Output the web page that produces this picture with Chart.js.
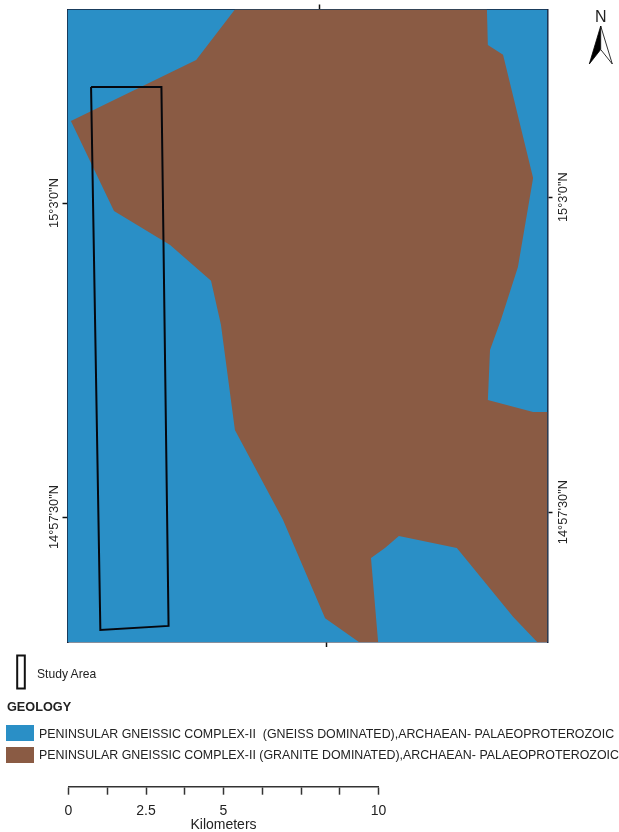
<!DOCTYPE html>
<html>
<head>
<meta charset="utf-8">
<script src="https://cdn.jsdelivr.net/npm/chart.js@4"></script>
<style>
  html, body { margin: 0; padding: 0; background: #fff; overflow: hidden; }
  body { width: 619px; height: 832px; position: relative; font-family: "Liberation Sans", Arial, sans-serif; color: #222; }
  canvas { position: absolute; left: 0; }
  #mapChart { top: 0; }
  #scaleChart { top: 780px; }
  .txt { position: absolute; white-space: pre; line-height: 1; }
  .swatch { position: absolute; left: 6px; width: 28px; height: 16px; }
  svg { position: absolute; left: 0; top: 0; }
</style>
</head>
<body>
<canvas id="mapChart" width="619" height="780"></canvas>
<canvas id="scaleChart" width="619" height="52"></canvas>

<svg width="619" height="700">
  <polygon points="600.7,26 589.3,64 600.7,49.5" fill="#000" stroke="#000" stroke-width="0.8"/>
  <polygon points="600.7,26 612.3,64 600.7,49.5" fill="#fff" stroke="#000" stroke-width="0.8"/>
  <rect x="17.2" y="655.5" width="7.6" height="33" fill="none" stroke="#111" stroke-width="2"/>
</svg>
<div class="txt" style="left:595px;top:9px;font-size:16px">N</div>
<div class="txt" style="left:37px;top:668px;font-size:12.1px">Study Area</div>
<div class="txt" style="left:7px;top:700.5px;font-size:12.7px;font-weight:bold">GEOLOGY</div>
<div class="swatch" style="top:725px;background:#2a8fc6"></div>
<div class="swatch" style="top:747px;background:#8a5b44"></div>
<div class="txt" id="leg1" style="left:39px;top:727.5px;font-size:12.4px"></div>
<div class="txt" id="leg2" style="left:39px;top:748.5px;font-size:12.4px"></div>

<script>
// map units are km from the south-west corner of the frame
const frameX = [0, 15.48, 15.48, 0, 0];
const frameY = [0, 0, 20.4, 20.4, 0];

const graniteX = [5.40, 4.15, 0.11, 1.50, 3.31, 4.63, 4.95, 5.40, 6.95, 8.31, 9.40, 10.02, 9.79, 10.24, 10.69, 12.56, 14.38, 15.15, 15.48, 15.48, 15.02, 13.56, 13.63, 13.98, 14.53, 15.02, 14.05, 13.56, 13.53, 5.40];
const graniteY = [20.40, 18.77, 16.81, 13.90, 12.81, 11.65, 10.23, 6.84, 3.94, 0.77, 0, 0, 2.71, 3.03, 3.42, 3.03, 0.81, 0, 0, 7.42, 7.42, 7.81, 9.42, 10.39, 12.10, 14.97, 18.94, 19.26, 20.40, 20.40];

const studyX = [0.76, 3.03, 3.26, 1.06, 0.76];
const studyY = [17.90, 17.90, 0.52, 0.39, 17.90];

// graticule ticks, the frame is slightly rotated so each side differs
const leftTicks = [14.16, 4.03];
const rightTicks = [14.35, 4.19];
const topTicks = [8.135];
const bottomTicks = [8.36];
const latLabels = ["15°3'0\"N", "14°57'30\"N"];

const scaleTicks = [0, 1.25, 2.5, 3.75, 5, 6.25, 7.5, 8.75, 10];
const scaleLabels = [0, 2.5, 5, 10];

const legendNames = [
  "PENINSULAR GNEISSIC COMPLEX-II  (GNEISS DOMINATED),ARCHAEAN- PALAEOPROTEROZOIC",
  "PENINSULAR GNEISSIC COMPLEX-II (GRANITE DOMINATED),ARCHAEAN- PALAEOPROTEROZOIC",
];
document.getElementById("leg1").textContent = legendNames[0];
document.getElementById("leg2").textContent = legendNames[1];

const BLUE = "#2a8fc6";
const BROWN = "#8a5b44";
const FRAME = "#14213a";
const TEXT = "#222";
const FONT = "'Liberation Sans', Arial, sans-serif";

function toPoints(xs, ys) {
  return xs.map((x, i) => ({ x: x, y: ys[i] }));
}

function frameScale(position, tickValues, size, labels, labelPadding) {
  const horizontal = position === "top" || position === "bottom";
  return {
    type: "linear",
    position: position,
    min: 0,
    max: horizontal ? 15.484 : 20.403,
    border: { display: true, color: FRAME, width: 1.5 },
    grid: { drawOnChartArea: false, color: FRAME, tickColor: "#111", tickLength: 5, tickWidth: 1.5 },
    ticks: labels
      ? {
          display: true,
          color: TEXT,
          font: { family: FONT, size: 12.8 },
          minRotation: 90,
          maxRotation: 90,
          crossAlign: "center",
          padding: labelPadding,
          autoSkip: false,
          callback: (v, i) => labels[i],
        }
      : { display: false },
    afterBuildTicks: (s) => {
      s.ticks = tickValues.map((v) => ({ value: v }));
    },
    afterFit: (s) => {
      if (horizontal) s.height = size;
      else s.width = size;
    },
  };
}

// datasets paint last-to-first, so the frame fill comes last
new Chart(document.getElementById("mapChart"), {
  type: "scatter",
  data: {
    datasets: [
      {
        label: "Study Area",
        data: toPoints(studyX, studyY),
        showLine: true,
        fill: false,
        borderColor: "#05070d",
        borderWidth: 2,
        pointRadius: 0,
      },
      {
        label: "Granite dominated",
        data: toPoints(graniteX, graniteY),
        showLine: true,
        fill: "shape",
        backgroundColor: BROWN,
        borderWidth: 0,
        pointRadius: 0,
      },
      {
        label: "Gneiss dominated",
        data: toPoints(frameX, frameY),
        showLine: true,
        fill: "shape",
        backgroundColor: BLUE,
        borderWidth: 0,
        pointRadius: 0,
      },
    ],
  },
  options: {
    responsive: false,
    animation: false,
    layout: { padding: 0 },
    plugins: { legend: { display: false }, tooltip: { enabled: false } },
    scales: {
      x: frameScale("bottom", bottomTicks, 138),
      x2: frameScale("top", topTicks, 9.5),
      y: frameScale("left", leftTicks, 67.5, latLabels, -24),
      y2: frameScale("right", rightTicks, 71.5, latLabels, -21),
    },
  },
});

// scale bar, a bare km axis
new Chart(document.getElementById("scaleChart"), {
  type: "scatter",
  data: { datasets: [] },
  options: {
    responsive: false,
    animation: false,
    layout: { padding: { left: 68.5, right: 240.5 } },
    plugins: { legend: { display: false }, tooltip: { enabled: false } },
    scales: {
      y: { display: false },
      x: {
        type: "linear",
        position: "bottom",
        min: 0,
        max: 10,
        border: { display: true, color: "#333", width: 1.5 },
        grid: { drawOnChartArea: false, tickColor: "#333", tickLength: 8, tickWidth: 1.5 },
        ticks: {
          color: TEXT,
          font: { family: FONT, size: 14 },
          padding: 8,
          autoSkip: false,
          maxRotation: 0,
          callback: (v) => (scaleLabels.includes(v) ? String(v) : ""),
        },
        afterBuildTicks: (s) => {
          s.ticks = scaleTicks.map((v) => ({ value: v }));
        },
        title: {
          display: true,
          text: "Kilometers",
          color: TEXT,
          font: { family: FONT, size: 14, lineHeight: 1 },
          padding: 0,
        },
        afterFit: (s) => {
          s.height = 45.3;
        },
      },
    },
  },
});
</script>
</body>
</html>
